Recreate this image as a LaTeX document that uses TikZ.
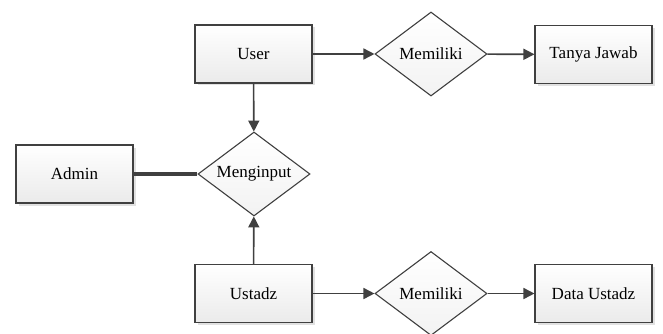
\documentclass[tikz,border=0pt]{standalone}
\usepackage{fontspec}
\setmainfont{Liberation Serif}
\usepackage{tikz}
\usetikzlibrary{shapes,arrows.meta,shadows}
\definecolor{garis}{HTML}{404040}
\tikzset{entitas/.style={rectangle,draw=garis,line width=1.1pt,minimum width=117pt,minimum height=58pt,top color=white,bottom color=gray!16,drop shadow={shadow xshift=2.5pt,shadow yshift=-2.5pt,fill=gray!30,opacity=0.8},font=\fontsize{17}{20}\selectfont},
relasi/.style={diamond,draw=garis,line width=1.1pt,minimum width=112pt,minimum height=84pt,inner sep=0pt,aspect=1.33,top color=white,bottom color=gray!10,font=\fontsize{17}{20}\selectfont},
panah/.style={draw=garis,line width=1.6pt,-{Triangle[length=11pt,width=11pt]}}}

\begin{document}
\begin{tikzpicture}[x=1pt,y=-1pt]
        \useasboundingbox (0,0) rectangle (663,334);
        \node[entitas] (user) at (253.5,54) {User};
        \node[relasi] (memiliki1) at (431,54) {Memiliki};
        \node[entitas] (tanya) at (593.5,54.5) {Tanya Jawab};
        \node[entitas] (admin) at (74.5,174) {Admin};
        \node[relasi] (menginput) at (254,174) {Menginput};
        \node[entitas] (ustadz) at (253.5,293.5) {Ustadz};
        \node[relasi] (memiliki2) at (431,293.5) {Memiliki};
        \node[entitas] (data) at (593.5,293.5) {Data Ustadz};

        \draw [panah] (user) to (memiliki1);
        \draw [panah] (memiliki1) to (tanya);
        \draw [panah] (user) to (menginput);
        \draw [panah] (ustadz) to (menginput);
        \draw [panah] (ustadz) to (memiliki2);
        \draw [panah] (memiliki2) to (data);
        \draw [draw=garis,line width=3.5pt] (admin) to (menginput);
    \end{tikzpicture}
\end{document}
